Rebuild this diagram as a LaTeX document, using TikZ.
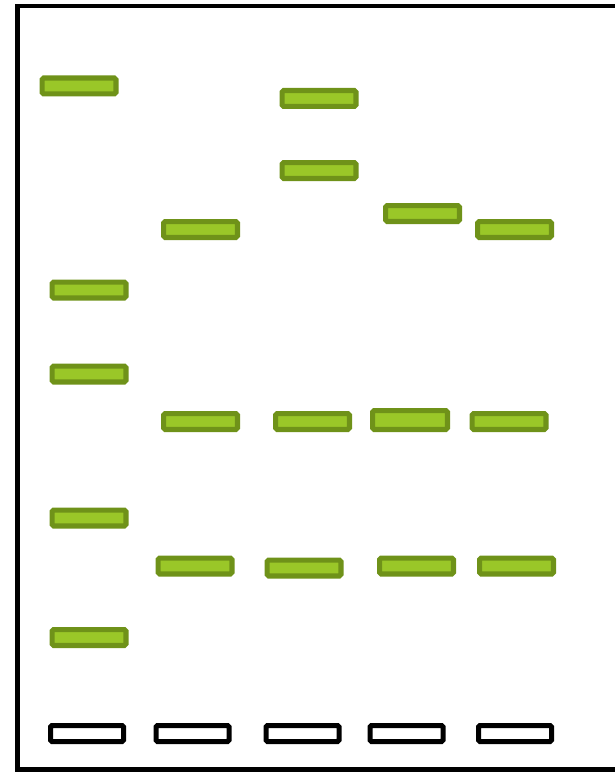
\documentclass[tikz,border=0pt]{standalone}
\definecolor{bandedge}{RGB}{111,146,25}
\definecolor{bandfill}{RGB}{154,199,40}
\begin{document}
\begin{tikzpicture}[x=1pt,y=-1pt]
      \tikzset{band/.style={draw=bandedge, fill=bandfill, line width=5.2pt, rounded corners=1.5pt, minimum width=73.8pt, minimum height=15.8pt, inner sep=0pt},
               well/.style={draw=black, line width=5pt, rounded corners=1.5pt, minimum width=73pt, minimum height=16pt, inner sep=0pt}}
      \useasboundingbox (0,0) rectangle (614,773);
      \draw[line width=4.5pt] (17.5,6) rectangle (616.8,769.5);
      % wells
      \node[well] (w1) at (87,733.5) {};
      \node[well] (w2) at (192.5,733.5) {};
      \node[well] (w3) at (302.5,733.5) {};
      \node[well] (w4) at (406.5,733.5) {};
      \node[well] (w5) at (515,733.5) {};
      % lane 1
      \node[band] (b11) at (79,86) {};
      \node[band] (b12) at (89,290) {};
      \node[band] (b13) at (89,374) {};
      \node[band] (b14) at (89,518) {};
      \node[band] (b15) at (89,637.5) {};
      % lane 2
      \node[band] (b21) at (200.5,229.5) {};
      \node[band] (b22) at (200.5,421.5) {};
      \node[band] (b23) at (195,566) {};
      % lane 3
      \node[band] (b31) at (319,98.5) {};
      \node[band] (b32) at (319,170.5) {};
      \node[band] (b33) at (312.5,421.5) {};
      \node[band] (b34) at (304,568) {};
      % lane 4
      \node[band] (b41) at (422.5,213.5) {};
      \node[band, minimum width=74.8pt, minimum height=18.8pt] (b42) at (410,420) {};
      \node[band] (b43) at (416.5,566) {};
      % lane 5
      \node[band] (b51) at (514.5,229.5) {};
      \node[band] (b52) at (509,421.5) {};
      \node[band] (b53) at (516.5,566) {};
    \end{tikzpicture}
\end{document}
